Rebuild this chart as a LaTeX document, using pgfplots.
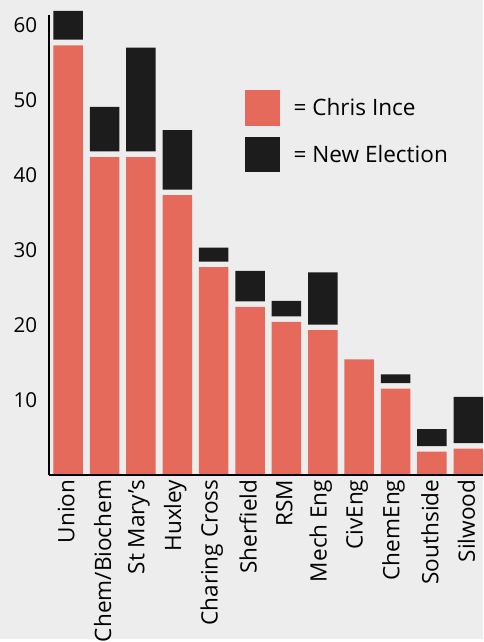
\documentclass[border=0pt]{standalone}
\usepackage{fontspec}
\setmainfont{Open Sans}
\usepackage{pgfplots}
\usepackage{pgfplotstable}
\pgfplotsset{compat=1.18}

\definecolor{barred}{HTML}{E56A5C}
\definecolor{barblack}{HTML}{1C1C1C}
\definecolor{paper}{HTML}{EDEDED}

% red = Chris Ince, gap = white space between the blocks, black = New Election
\pgfplotstableread{
x  red   gap   black
0  57.3  0.75  3.85
1  42.4  0.75  5.95
2  42.4  0.75  13.85
3  37.3  0.75  7.95
4  27.7  0.75  1.85
5  22.4  0.75  4.05
6  20.4  0.75  2.05
7  19.3  0.75  6.95
8  15.4  0     0
9  11.5  0.75  1.15
10 3.1   0.75  2.25
11 3.5   0.75  6.15
}\votes

\begin{document}
\begin{tikzpicture}
  \fill[paper] (-36.75pt,-123.75pt) rectangle (327pt,357.75pt);
  \begin{axis}[
      at={(0,0)}, anchor=south west,
      scale only axis,
      width=327pt, height=346.5pt,
      ybar stacked,
      bar width=0.81,
      xmin=-0.534, xmax=11.4,
      ymin=0, ymax=61.35,
      clip=false,
      axis on top,
      axis lines=left,
      axis line style={-, line width=1.6pt, black},
      major tick length=0pt,
      xtick={0,...,11},
      xticklabels={Union,Chem/Biochem,St Mary’s,Huxley,Charing Cross,Sherfield,RSM,Mech Eng,CivEng,ChemEng,Southside,Silwood},
      xticklabel style={yshift=-3.5pt, xshift=-1.5pt, rotate=90, anchor=east, inner sep=0pt,
        font=\fontsize{17}{20}\selectfont},
      ytick={10,20,30,40,50,60},
      yticklabel style={anchor=east, inner sep=0pt, xshift=-8.5pt,
        font=\fontsize{15.5}{18}\selectfont},
      /pgf/number format/assume math mode=true,
      legend image code/.code={\fill[#1] (0pt,-13.3pt) rectangle (26.5pt,13.3pt);},
      legend style={draw=none, fill=none, at={(axis description cs:0.451,0.836)},
        anchor=north west, inner sep=0pt, outer sep=0pt,
        row sep=8.4pt, column sep=10.5pt,
        nodes={inner sep=0pt},
        font=\fontsize{17}{20}\selectfont},
      legend cell align=left,
    ]
    \addplot[fill=barred, draw=none] table[x=x, y=red] {\votes};
    \addlegendentry{= Chris Ince}
    \addplot[fill=none, draw=none, forget plot] table[x=x, y=gap] {\votes};
    \addplot[fill=barblack, draw=none] table[x=x, y=black] {\votes};
    \addlegendentry{= New Election}
  \end{axis}
\end{tikzpicture}
\end{document}
